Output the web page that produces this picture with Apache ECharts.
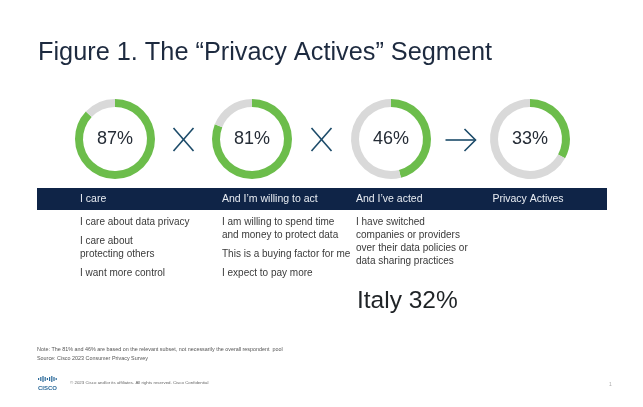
<!DOCTYPE html>
<html>
<head>
<meta charset="utf-8">
<script src="https://cdn.jsdelivr.net/npm/echarts@6/dist/echarts.min.js"></script>
<style>
html,body{margin:0;padding:0;background:#fff;}
#chart{width:643px;height:407px;}
</style>
</head>
<body>
<div id="chart"></div>
<script>
// ---- data ----
const titleText = 'Figure 1. The \u201CPrivacy Actives\u201D Segment';
const steps = ['I care', 'And I\u2019m willing to act', 'And I\u2019ve acted', 'Privacy Actives'];
const percents = [87, 81, 46, 33];
const operators = ['cross', 'cross', 'arrow'];
const details = [
  ['I care about data privacy', 'I care about\nprotecting others', 'I want more control'],
  ['I am willing to spend time\nand money to protect data', 'This is a buying factor for me', 'I expect to pay more'],
  ['I have switched\ncompanies or providers\nover their data policies or\ndata sharing practices'],
  []
];
const highlight = 'Italy 32%';
const noteLines = [
  'Note: The 81% and 46% are based on the relevant subset, not necessarily the overall respondent  pool',
  'Source: Cisco 2023 Consumer Privacy Survey'
];
const copyright = '\u00A9 2023 Cisco and/or its affiliates. All rights reserved. Cisco Confidential';
const pageNumber = '1';

// ---- layout ----
const centersX = [115, 252, 391, 530];
const centerY = 139;
const colLeft = [80, 222, 356, null];
const green = '#6cbd4b', grey = '#d9d9d9', navy = '#0f2447', opColor = '#1c4b69';
const fontFam = '"Liberation Sans", Arial, sans-serif';

const chart = echarts.init(document.getElementById('chart'), null, {renderer: 'canvas'});

const series = percents.map((p, i) => ({
  type: 'pie',
  center: [centersX[i], centerY],
  radius: [32, 40],
  startAngle: 90,
  clockwise: true,
  silent: true,
  animation: false,
  labelLine: {show: false},
  data: [
    {value: p, itemStyle: {color: green},
     label: {show: true, position: 'center', formatter: p + '%', fontSize: 18, color: '#252c36', fontFamily: fontFam}},
    {value: 100 - p, itemStyle: {color: grey}, label: {show: false}}
  ]
}));

const g = [];
g.push({type: 'text', x: 38, y: 53, style: {text: titleText, fontSize: 25.3, fontFamily: fontFam, fill: '#1d2a3f', verticalAlign: 'middle'}});

// operators
operators.forEach((op, i) => {
  const mx = (centersX[i] + centersX[i + 1]) / 2;
  if (op === 'cross') {
    g.push({type: 'line', shape: {x1: mx - 10, y1: centerY - 11, x2: mx + 10, y2: centerY + 12}, style: {stroke: opColor, lineWidth: 1.6}});
    g.push({type: 'line', shape: {x1: mx + 10, y1: centerY - 11, x2: mx - 10, y2: centerY + 12}, style: {stroke: opColor, lineWidth: 1.6}});
  } else {
    g.push({type: 'line', shape: {x1: mx - 15, y1: centerY + 1, x2: mx + 15, y2: centerY + 1}, style: {stroke: opColor, lineWidth: 1.6}});
    g.push({type: 'polyline', shape: {points: [[mx + 4, centerY - 10], [mx + 15, centerY + 1], [mx + 4, centerY + 12]]}, style: {stroke: opColor, lineWidth: 1.6, fill: null}});
  }
});

// header bar
g.push({type: 'rect', shape: {x: 37, y: 188, width: 570, height: 22}, style: {fill: navy}});
steps.forEach((s, i) => {
  if (colLeft[i] !== null) {
    g.push({type: 'text', x: colLeft[i], y: 199, style: {text: s, fontSize: 10.5, fontFamily: fontFam, fill: '#e9edf3', verticalAlign: 'middle'}});
  } else {
    g.push({type: 'text', x: centersX[i] - 2, y: 199, style: {text: s, fontSize: 10.5, fontFamily: fontFam, fill: '#e9edf3', verticalAlign: 'middle', align: 'center'}});
  }
});

// detail paragraphs
const lineH = 13, paraGap = 6;
details.forEach((paras, i) => {
  let y = 215.5;
  paras.forEach(p => {
    const n = p.split('\n').length;
    g.push({type: 'text', x: colLeft[i], y: y, style: {text: p, fontSize: 10, lineHeight: lineH, fontFamily: fontFam, fill: '#3a3a3a', verticalAlign: 'top'}});
    y += n * lineH + paraGap;
  });
});

g.push({type: 'text', x: 357, y: 301, style: {text: highlight, fontSize: 24.5, fontFamily: fontFam, fill: '#1f2326', verticalAlign: 'middle'}});

// notes
noteLines.forEach((t, i) => {
  g.push({type: 'text', x: 37, y: 350 + i * 9, style: {text: t, fontSize: 5.4, fontFamily: fontFam, fill: '#555', verticalAlign: 'middle'}});
});

// cisco logo
const barH = [2, 4, 6, 4, 2, 4, 6, 4, 2];
barH.forEach((h, i) => {
  g.push({type: 'rect', shape: {x: 38 + i * 2.2, y: 379 - h / 2, width: 1.2, height: h}, style: {fill: '#2b6a9a'}});
});
g.push({type: 'text', x: 47.5, y: 388, style: {text: 'CISCO', fontSize: 6, fontWeight: 'bold', fontFamily: fontFam, fill: '#2b6a9a', verticalAlign: 'middle', align: 'center'}});
g.push({type: 'text', x: 70, y: 383, style: {text: copyright, fontSize: 4.4, fontFamily: fontFam, fill: '#666', verticalAlign: 'middle'}});
g.push({type: 'text', x: 609, y: 385, style: {text: pageNumber, fontSize: 5, fontFamily: fontFam, fill: '#aaa', verticalAlign: 'middle'}});

chart.setOption({
  animation: false,
  backgroundColor: '#ffffff',
  series: series,
  graphic: {elements: g}
});
</script>
</body>
</html>
